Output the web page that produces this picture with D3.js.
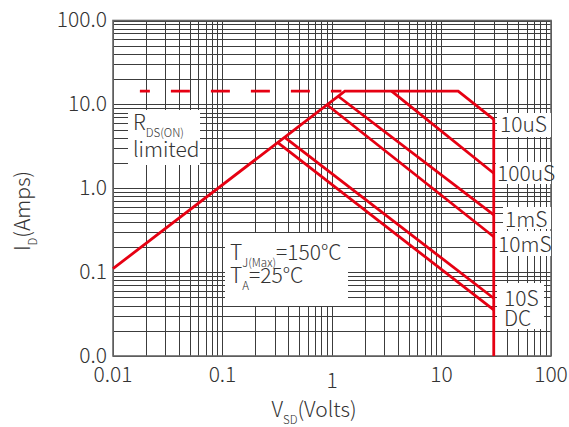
<!DOCTYPE html>
<html lang="en">

<head>
    <meta charset="UTF-8">
    <title>SOA</title>
    <style>
        body { margin: 0; background: #fff; }
        text { font-family: "Noto Sans CJK SC", "Noto Sans", sans-serif; font-weight: 300; fill: #333; }
    </style>
</head>

<body>
    <svg width="569" height="427"></svg>
    <script src="https://cdn.jsdelivr.net/npm/d3@7"></script>
    <script>
        // axis ticks
        const xTicks = [0.01, 0.1, 1, 10, 100];
        const xTickLabels = ["0.01", "0.1", "1", "10", "100"];
        const yTicks = [0.01, 0.1, 1, 10, 100];
        const yTickLabels = ["0.0", "0.1", "1.0", "10.0", "100.0"];

        // safe operating area curves, [V, I]
        const pulse10us = [[0.01, 0.11], [1.31, 14.4], [14.2, 14.4], [30, 6.64]];
        const pulse100us = [[3.5, 14.4], [30, 1.51]];
        const pulse1ms = [[1.14, 12.5], [30, 0.48]];
        const pulse10ms = [[0.9, 9.9], [30, 0.264]];
        const pulse10s = [[0.37, 4.05], [30, 0.0488]];
        const pulseDC = [[0.32, 3.5], [30, 0.0354]];
        const vMaxLine = [[30, 6.64], [30, 0.01]];
        const dashedLimit = [[0.0176, 14.4], [1.22, 14.4]];

        const svg = d3.select("svg");
        const red = "#e60012";

        var x = d3.scaleLog().domain([0.01, 100]).range([113, 551]);
        var y = d3.scaleLog().domain([0.01, 100]).range([356, 20.5]);

        // grid values 1..9 per decade
        var gridVals = [];
        [0.01, 0.1, 1, 10].forEach(function (d) {
            for (var k = 1; k < 10; k++) gridVals.push(+(k * d).toPrecision(3));
        });
        gridVals.push(100);

        var grid = svg.append("g").attr("stroke", "#3c3c3c").attr("stroke-width", 1);
        grid.selectAll(".vg").data(gridVals).enter().append("line")
            .attr("x1", d => Math.round(x(d)) + 0.5).attr("x2", d => Math.round(x(d)) + 0.5)
            .attr("y1", y(100)).attr("y2", y(0.01));
        grid.selectAll(".hg").data(gridVals).enter().append("line")
            .attr("y1", d => Math.round(y(d)) + 0.5).attr("y2", d => Math.round(y(d)) + 0.5)
            .attr("x1", x(0.01)).attr("x2", x(100));

        // frame
        svg.append("rect")
            .attr("x", x(0.01)).attr("y", y(100))
            .attr("width", x(100) - x(0.01)).attr("height", y(0.01) - y(100))
            .attr("fill", "none").attr("stroke", "#666").attr("stroke-width", 1.6);

        // white label boxes
        var boxes = [
            [128, 110, 72, 55],
            [225, 233, 123, 73],
            [497, 113, 54, 24],
            [496, 162, 55, 22],
            [503, 207, 48, 22],
            [497, 231, 54, 25],
            [497, 283, 47, 46]
        ];
        svg.selectAll(".box").data(boxes).enter().append("rect")
            .attr("x", d => d[0]).attr("y", d => d[1])
            .attr("width", d => d[2]).attr("height", d => d[3])
            .attr("fill", "#fff");

        // curves
        var line = d3.line().x(d => x(d[0])).y(d => y(d[1]));
        var curves = [pulse10us, pulse100us, pulse1ms, pulse10ms, pulse10s, pulseDC, vMaxLine];
        svg.selectAll(".soa").data(curves).enter().append("path")
            .attr("d", line)
            .attr("fill", "none").attr("stroke", red).attr("stroke-width", 2.8)
            .attr("stroke-linejoin", "miter");
        svg.append("path").attr("d", line(dashedLimit))
            .attr("fill", "none").attr("stroke", red).attr("stroke-width", 2.8)
            .attr("stroke-dasharray", "19 21").attr("stroke-dashoffset", 9);

        // tick labels
        svg.selectAll(".xl").data(xTicks).enter().append("text")
            .attr("x", d => x(d)).attr("y", (d, i) => xTickLabels[i] === "1" ? 388 : 382)
            .attr("text-anchor", "middle").attr("font-size", 21)
            .text((d, i) => xTickLabels[i]);
        svg.selectAll(".yl").data(yTicks).enter().append("text")
            .attr("x", 107).attr("y", d => y(d)).attr("dy", "0.33em")
            .attr("text-anchor", "end").attr("font-size", 21)
            .text((d, i) => yTickLabels[i]);

        // curve labels
        var curveLabels = [
            ["10uS", 500, 132],
            ["100uS", 497, 181],
            ["1mS", 505, 227],
            ["10mS", 498, 252],
            ["10S", 504, 306],
            ["DC", 504, 326]
        ];
        svg.selectAll(".cl").data(curveLabels).enter().append("text")
            .attr("x", d => d[1]).attr("y", d => d[2])
            .attr("font-size", 21).text(d => d[0]);

        // text with subscripts
        function subText(px, py, parts, rotate) {
            var t = svg.append("text").attr("x", px).attr("y", py).attr("font-size", 21);
            if (rotate) t.attr("transform", "rotate(-90," + px + "," + py + ")").attr("text-anchor", "middle");
            parts.forEach(function (p) {
                var s = t.append("tspan").text(p[0]);
                if (p[1]) s.attr("font-size", 11.5).attr("dy", 7);
                else if (p[2]) s.attr("dy", -7);
            });
            return t;
        }
        subText(133, 130, [["R"], ["DS(ON)", 1]]);
        svg.append("text").attr("x", 133).attr("y", 157).attr("font-size", 21).text("limited");
        subText(230, 260, [["T"], ["J(Max)", 1], ["=150°C", 0, 1]]);
        subText(230, 283, [["T"], ["A", 1], ["=25°C", 0, 1]]);
        subText(314, 417, [["V"], ["SD", 1], ["(Volts)", 0, 1]], false).attr("text-anchor", "middle");
        subText(30, 211, [["I"], ["D", 1], ["(Amps)", 0, 1]], true);
    </script>
</body>

</html>
